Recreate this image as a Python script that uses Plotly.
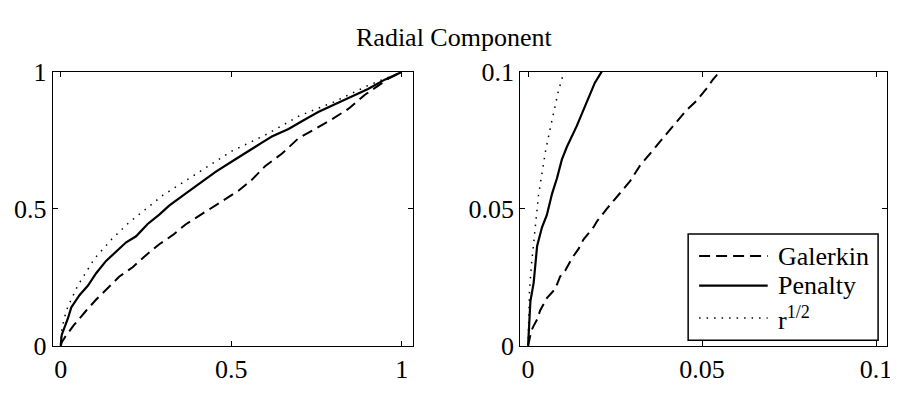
import plotly.graph_objects as go
from plotly.subplots import make_subplots

# readings (right panel = zoom of the same curves near 0)
galerkin_r = [0, 0.00038, 0.00095, 0.0016, 0.0026, 0.0035, 0.0054, 0.0078, 0.0092, 0.0107,
              0.0126, 0.0145, 0.0159, 0.0188, 0.0198, 0.0226, 0.0255, 0.0293, 0.0321, 0.035,
              0.0379, 0.0417, 0.0455, 0.0483, 0.0512, 0.0531, 0.075, 0.104, 0.143, 0.172,
              0.211, 0.250, 0.289, 0.328, 0.367, 0.415, 0.464, 0.522, 0.561, 0.600, 0.649,
              0.697, 0.746, 0.794, 0.843, 0.891, 0.930, 0.964, 1.0]
galerkin_u = [0, 0.0028, 0.0056, 0.0073, 0.0096, 0.013, 0.0174, 0.0208, 0.0253, 0.0275,
              0.032, 0.0354, 0.0388, 0.0433, 0.0455, 0.05, 0.0545, 0.0601, 0.0657, 0.0702,
              0.0747, 0.0803, 0.086, 0.0893, 0.0938, 0.0972, 0.129, 0.169, 0.219, 0.253,
              0.287, 0.331, 0.371, 0.404, 0.444, 0.483, 0.522, 0.567, 0.607, 0.657, 0.702,
              0.758, 0.792, 0.826, 0.865, 0.916, 0.949, 0.978, 1.0]

penalty_r = [0, 0.0002, 0.00067, 0.0016, 0.0021, 0.0026, 0.004, 0.0054, 0.0069, 0.0083,
             0.0097, 0.0111, 0.014, 0.0169, 0.0192, 0.0211, 0.031, 0.055, 0.080, 0.104,
             0.133, 0.163, 0.192, 0.221, 0.255, 0.289, 0.318, 0.367, 0.405, 0.454, 0.503,
             0.551, 0.590, 0.619, 0.668, 0.707, 0.755, 0.804, 0.853, 0.901, 0.950, 1.0]
penalty_u = [0, 0.0062, 0.0163, 0.023, 0.030, 0.0365, 0.0433, 0.0478, 0.0556, 0.0612,
             0.068, 0.0725, 0.0803, 0.0893, 0.0961, 0.1, 0.140, 0.185, 0.220, 0.265,
             0.310, 0.343, 0.378, 0.400, 0.445, 0.479, 0.512, 0.557, 0.590, 0.635, 0.674,
             0.713, 0.742, 0.764, 0.792, 0.820, 0.854, 0.882, 0.910, 0.938, 0.972, 1.0]

sqrt_r = [0, 0.0004, 0.001, 0.0023, 0.003, 0.004, 0.005, 0.0063, 0.0073, 0.0087, 0.0103,
          0.02, 0.05, 0.1, 0.15, 0.2, 0.25, 0.3, 0.4, 0.5, 0.6, 0.7, 0.8, 0.9, 1.0]
sqrt_u = [0, 0.02, 0.03, 0.048, 0.055, 0.063, 0.071, 0.079, 0.085, 0.093, 0.1,
          0.14, 0.22, 0.32, 0.39, 0.45, 0.50, 0.55, 0.63, 0.71, 0.77, 0.84, 0.89, 0.95, 1.0]

left_ticks = [0, 0.5, 1]
right_ticks = [0, 0.05, 0.1]

FONT = "Liberation Serif"

fig = make_subplots(rows=1, cols=2)

series = [
    ("Galerkin", galerkin_r, galerkin_u, dict(color="black", width=2, dash="11px,6px")),
    ("Penalty", penalty_r, penalty_u, dict(color="black", width=2.2)),
    ("r<sup>1/2</sup>", sqrt_r, sqrt_u, dict(color="black", width=1.5, dash="1.5px,6px")),
]
for col in (1, 2):
    for name, r, u, line in series:
        fig.add_trace(go.Scatter(x=r, y=u, mode="lines", name=name, line=line,
                                 showlegend=False), row=1, col=col)

# the page body keeps its default 8px margin, so the figure is 8px smaller
# and everything is placed relative to the window's corner
OFF = 8
W, H = 898 - OFF, 396 - OFF
def px(x):
    return (x - OFF) / W
def py(y):
    return 1 - (y - OFF) / H

axis_style = dict(showline=True, linecolor="black", linewidth=1, mirror="allticks",
                  ticks="inside", ticklen=5, tickcolor="black", showgrid=False,
                  zeroline=False, tickfont=dict(family=FONT, size=26, color="black"))

fig.update_xaxes(**axis_style)
fig.update_yaxes(**axis_style)
fig.update_xaxes(domain=[px(53), px(415)], range=[-0.0233, 1.032],
                 tickvals=left_ticks, ticktext=["0", "0.5", "1"], row=1, col=1)
fig.update_yaxes(domain=[py(358), py(62)], range=[0, 1],
                 tickvals=left_ticks, ticktext=["0", "0.5", "1"], row=1, col=1)
fig.update_xaxes(domain=[px(523), px(892)], range=[-0.00229, 0.10314],
                 tickvals=right_ticks, ticktext=["0", "0.05", "0.1"], row=1, col=2)
fig.update_yaxes(domain=[py(358), py(62)], range=[0, 0.1],
                 tickvals=right_ticks, ticktext=["0", "0.05", "0.1"], row=1, col=2)

# legend drawn by hand so the line samples are long like the original
shapes = [dict(type="rect", xref="paper", yref="paper",
               x0=px(692), x1=px(883), y0=py(352), y1=py(237),
               line=dict(color="black", width=1.5), fillcolor="white", layer="above")]
annotations = []
for (name, r, u, line), yy in zip(series, [261, 293, 328]):
    shapes.append(dict(type="line", xref="paper", yref="paper",
                       x0=px(703), x1=px(772), y0=py(yy), y1=py(yy),
                       line=line, layer="above"))
    annotations.append(dict(text=name, xref="paper", yref="paper", x=px(780), y=py(yy),
                            xanchor="left", yanchor="middle", showarrow=False,
                            font=dict(family=FONT, size=26, color="black")))

annotations.append(dict(text="Radial Component", xref="paper", yref="paper",
                        x=px(457), y=py(25), xanchor="center", yanchor="middle",
                        showarrow=False, font=dict(family=FONT, size=26, color="black")))

fig.update_layout(width=W, height=H, margin=dict(l=0, r=0, t=0, b=0),
                  paper_bgcolor="white", plot_bgcolor="white",
                  shapes=shapes, annotations=annotations, showlegend=False)

fig.write_html("out.html")
